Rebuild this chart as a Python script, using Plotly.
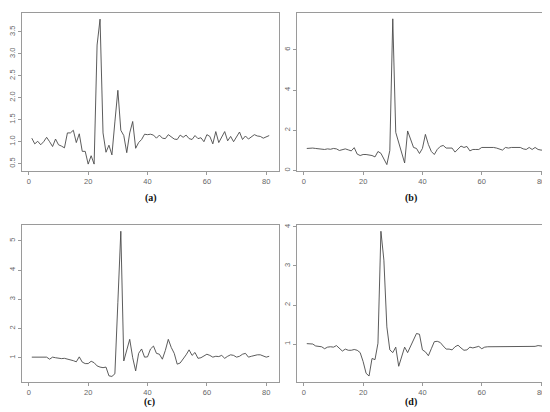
import plotly.graph_objects as go

# ---------------------------------------------------------------------------
# Datos
# ---------------------------------------------------------------------------
X = list(range(1, 82))

SERIE_A = [1.08, 0.95, 1.01, 0.93, 1.00, 1.10, 1.00, 0.89, 1.06, 0.93,
           0.90, 0.86, 1.20, 1.20, 1.26, 0.98, 1.18, 0.78, 0.78, 0.49,
           0.68, 0.49, 3.20, 3.79, 1.20, 0.76, 0.92, 0.70, 1.45, 2.17,
           1.26, 1.14, 0.75, 1.20, 1.46, 0.85, 0.98, 1.05, 1.17, 1.16,
           1.17, 1.15, 1.08, 1.15, 1.08, 1.07, 1.16, 1.10, 1.06, 1.05,
           1.15, 1.10, 1.15, 1.07, 1.05, 1.14, 1.07, 1.09, 1.00, 1.16,
           1.12, 0.95, 1.23, 0.98, 1.12, 1.23, 1.02, 1.12, 1.00, 1.10,
           1.22, 1.05, 1.13, 1.06, 1.10, 1.16, 1.13, 1.12, 1.08, 1.11,
           1.14]

SERIE_B = [1.10, 1.12, 1.12, 1.10, 1.08, 1.05, 1.05, 1.08, 1.06, 1.10,
           1.08, 1.00, 1.05, 1.08, 1.03, 0.98, 1.14, 0.82, 0.75, 0.80,
           0.80, 0.78, 0.75, 0.68, 0.95, 0.86, 0.55, 0.30, 1.00, 7.54,
           1.90, 1.40, 0.90, 0.38, 1.97, 1.60, 1.15, 1.10, 0.85, 1.10,
           1.80, 1.30, 0.95, 0.80, 1.05, 1.20, 1.25, 1.12, 1.12, 1.12,
           0.92, 1.05, 1.22, 1.15, 1.20, 0.98, 1.05, 1.05, 1.05, 1.15,
           1.15, 1.15, 1.16, 1.15, 1.12, 1.08, 1.02, 1.15, 1.12, 1.15,
           1.15, 1.15, 1.15, 1.08, 1.05, 1.15, 1.05, 1.15, 1.05, 1.02,
           1.02]

SERIE_C = [1.02, 1.02, 1.02, 1.01, 1.01, 1.02, 0.95, 1.02, 1.00, 0.98,
           0.97, 0.98, 0.96, 0.94, 0.90, 0.86, 1.03, 0.85, 0.80, 0.80,
           0.88, 0.83, 0.72, 0.68, 0.66, 0.68, 0.38, 0.36, 0.45, 2.90,
           5.33, 0.89, 1.25, 1.63, 1.00, 0.55, 1.15, 1.30, 1.02, 1.03,
           1.30, 1.40, 1.15, 1.12, 0.95, 1.25, 1.63, 1.35, 1.15, 0.78,
           0.82, 0.95, 1.10, 1.27, 1.08, 1.18, 0.98, 1.00, 1.05, 1.12,
           1.08, 1.02, 1.05, 1.04, 1.08, 0.98, 1.05, 1.10, 1.08, 1.02,
           1.05, 1.12, 1.15, 1.02, 1.05, 1.08, 1.10, 1.10, 1.05, 1.02,
           1.05]

SERIE_D = [1.01, 1.00, 1.00, 0.95, 0.94, 0.93, 0.88, 0.92, 0.93, 0.92,
           0.96, 0.90, 0.82, 0.87, 0.84, 0.84, 0.86, 0.84, 0.78, 0.55,
           0.25, 0.18, 0.63, 0.60, 1.02, 3.89, 3.15, 1.44, 0.85, 0.78,
           0.92, 0.43, 0.70, 0.92, 0.78, 0.95, 1.10, 1.27, 1.25, 0.85,
           0.80, 0.70, 0.88, 1.06, 1.07, 1.04, 0.95, 0.87, 0.87, 0.85,
           0.93, 0.97, 0.90, 0.84, 0.85, 0.92, 0.90, 0.93, 0.94, 0.88,
           0.92, 0.93, 0.93, 0.94, 0.94, 0.94, 0.94, 0.94, 0.94, 0.94,
           0.93, 0.93, 0.93, 0.93, 0.93, 0.93, 0.94, 0.94, 0.96, 0.95,
           0.94]

X_TICKS = [0, 20, 40, 60, 80]
Y_TICKS_A = [0.5, 1.0, 1.5, 2.0, 2.5, 3.0, 3.5]
Y_TICKS_B = [0, 2, 4, 6]
Y_TICKS_C = [1, 2, 3, 4, 5]
Y_TICKS_D = [1, 2, 3, 4]
LABELS = ["(a)", "(b)", "(c)", "(d)"]

# ---------------------------------------------------------------------------
# Estilo
# ---------------------------------------------------------------------------
LINE = "#4a4a4a"
BOX = "#9a9a9a"
TICK_TXT = "#666666"
W, H = 550, 412

# cajas de cada panel en píxeles: (izq, der, arriba, abajo)
BOXES = [(14.3, 270.7, 3, 162), (289.3, 545.5, 3, 162),
         (14.3, 270.7, 217, 375), (289.3, 545.5, 217, 375)]
Y_RANGES = [(0.337, 3.93), (-0.01, 7.83), (0.16, 5.53), (0.02, 4.04)]
CAPTION_POS = [(135, 189), (411, 189), (134, 403), (411, 403)]

series = [SERIE_A, SERIE_B, SERIE_C, SERIE_D]
yticks = [Y_TICKS_A, Y_TICKS_B, Y_TICKS_C, Y_TICKS_D]
yfmt = [".1f", "d", "d", "d"]

fig = go.Figure()
layout = dict(
    width=W, height=H,
    margin=dict(l=0, r=0, t=0, b=0),
    paper_bgcolor="white", plot_bgcolor="white",
    showlegend=False,
    font=dict(family="Liberation Sans, Arial, sans-serif", size=7.5, color=TICK_TXT),
)

for k, (ys, box, yr, yt, fmt) in enumerate(zip(series, BOXES, Y_RANGES, yticks, yfmt)):
    n = "" if k == 0 else str(k + 1)
    fig.add_trace(go.Scatter(
        x=X, y=ys, mode="lines",
        line=dict(color=LINE, width=0.9),
        xaxis="x" + n, yaxis="y" + n,
    ))
    left, right, top, bottom = box
    axis_common = dict(
        showgrid=False, zeroline=False,
        showline=True, mirror=True, linecolor=BOX, linewidth=1,
        ticks="outside", ticklen=3, tickcolor=BOX, tickwidth=1,
        tickfont=dict(size=7.5, color=TICK_TXT),
    )
    layout["xaxis" + n] = dict(
        axis_common,
        domain=[left / W, right / W],
        range=[-2.2, 84.2],
        tickvals=X_TICKS,
        anchor="y" + n,
    )
    layout["yaxis" + n] = dict(
        axis_common,
        domain=[1 - bottom / H, 1 - top / H],
        range=list(yr),
        tickvals=yt,
        tickformat=fmt,
        tickangle=-90,
        anchor="x" + n,
    )

fig.update_layout(**layout)

for lab, (cx, cy) in zip(LABELS, CAPTION_POS):
    fig.add_annotation(
        text="<b>" + lab + "</b>", x=cx / W, y=1 - cy / H,
        xref="paper", yref="paper", showarrow=False,
        font=dict(family="Liberation Serif, DejaVu Serif, serif", size=10, color="#111111"),
    )

fig.write_html("out.html")
